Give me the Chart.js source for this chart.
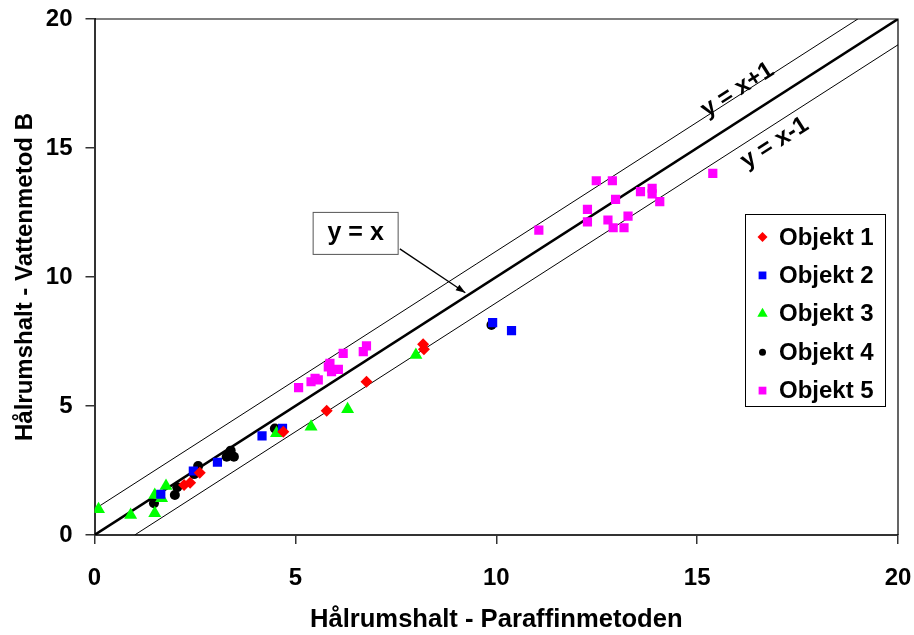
<!DOCTYPE html>
<html lang="sv">
<head>
<meta charset="UTF-8">
<title>Hålrumshalt</title>
<script src="https://cdn.jsdelivr.net/npm/chart.js"></script>
<style>
  html, body { margin: 0; padding: 0; background: #fff; }
</style>
</head>
<body>
<canvas id="chart" width="914" height="635"></canvas>
<script>
// Objekt 1 (röda romber)
const obj1X = [2.23, 2.38, 2.62, 4.70, 5.78, 6.77, 8.18, 8.20];
const obj1Y = [1.94, 2.03, 2.41, 4.00, 4.82, 5.94, 7.39, 7.20];
// Objekt 2 (blå kvadrater)
const obj2X = [1.65, 2.46, 3.06, 4.17, 4.68, 9.91, 10.38];
const obj2Y = [1.58, 2.48, 2.82, 3.84, 4.13, 8.23, 7.92];
// Objekt 3 (gröna trianglar)
const obj3X = [0.10, 0.90, 1.50, 1.50, 1.67, 1.78, 4.53, 5.39, 6.30, 8.00];
const obj3Y = [1.00, 0.78, 0.84, 1.55, 1.42, 1.90, 3.94, 4.20, 4.87, 6.98];
// Objekt 4 (svarta cirklar)
const obj4X = [1.48, 2.00, 2.06, 2.48, 2.58, 3.29, 3.39, 3.47, 4.49, 9.88];
const obj4Y = [1.23, 1.55, 1.85, 2.36, 2.67, 3.03, 3.27, 3.03, 4.13, 8.14];
// Objekt 5 (magenta kvadrater)
const obj5X = [5.08, 5.39, 5.49, 5.57, 5.82, 5.90, 6.07, 5.86, 6.19, 6.69, 6.77,
               11.06, 12.49, 12.89, 12.97, 12.27, 12.27, 12.78, 12.91, 13.28, 13.18,
               13.59, 13.88, 13.88, 14.07, 15.39];
const obj5Y = [5.71, 5.94, 6.07, 6.01, 6.52, 6.33, 6.42, 6.65, 7.04, 7.11, 7.33,
               11.82, 13.73, 13.73, 13.01, 12.62, 12.14, 12.21, 11.91, 12.36, 11.91,
               13.31, 13.44, 13.22, 12.92, 14.02];

// referenslinjer
const eqX = [0, 20],    eqY = [0, 20];
const plusX = [0, 19],  plusY = [1, 20];
const minusX = [1, 20], minusY = [0, 19];

const xTicks = [0, 5, 10, 15, 20];
const yTicks = [0, 5, 10, 15, 20];

const pts = (xs, ys) => xs.map((x, i) => ({ x: x, y: ys[i] }));

const FONT = '"Liberation Sans", Arial, sans-serif';

const series = [
  { label: 'Objekt 1', data: pts(obj1X, obj1Y), color: '#ff0000', style: 'rectRot', radius: 6 },
  { label: 'Objekt 2', data: pts(obj2X, obj2Y), color: '#0000ff', style: 'rect', radius: 6.5 },
  { label: 'Objekt 3', data: pts(obj3X, obj3Y), color: '#00ff00', style: 'triangle', radius: 7.5 },
  { label: 'Objekt 4', data: pts(obj4X, obj4Y), color: '#000000', style: 'circle', radius: 5 },
  { label: 'Objekt 5', data: pts(obj5X, obj5Y), color: '#ff00ff', style: 'rect', radius: 6.5 }
];

const datasets = series.map(s => ({
  label: s.label,
  data: s.data,
  pointStyle: s.style,
  pointRadius: s.radius,
  pointBackgroundColor: s.color,
  pointBorderColor: s.color,
  pointBorderWidth: 0,
  showLine: false
}));

function refLine(label, xs, ys, w) {
  return {
    label: label, data: pts(xs, ys), showLine: true, pointRadius: 0,
    borderColor: '#000', borderWidth: w, fill: false
  };
}
datasets.push(refLine('y = x', eqX, eqY, 2.5));
datasets.push(refLine('y = x+1', plusX, plusY, 1));
datasets.push(refLine('y = x-1', minusX, minusY, 1));

function drawMarker(ctx, style, x, y, r, color) {
  ctx.fillStyle = color;
  ctx.beginPath();
  if (style === 'rectRot') {
    ctx.moveTo(x, y - r); ctx.lineTo(x + r, y); ctx.lineTo(x, y + r); ctx.lineTo(x - r, y);
  } else if (style === 'rect') {
    const s = r * Math.SQRT1_2;
    ctx.rect(x - s, y - s, 2 * s, 2 * s);
  } else if (style === 'triangle') {
    ctx.moveTo(x, y - r); ctx.lineTo(x + r * 0.866, y + r / 2); ctx.lineTo(x - r * 0.866, y + r / 2);
  } else {
    ctx.arc(x, y, r, 0, Math.PI * 2);
  }
  ctx.closePath();
  ctx.fill();
}

const extras = {
  id: 'extras',
  afterDatasetsDraw(chart) {
    const ctx = chart.ctx;
    const a = chart.chartArea;
    const xs = chart.scales.x, ys = chart.scales.y;
    const px = v => xs.getPixelForValue(v), py = v => ys.getPixelForValue(v);

    ctx.save();
    // ram upptill och till höger
    ctx.strokeStyle = '#000';
    ctx.lineWidth = 1.2;
    ctx.beginPath();
    ctx.moveTo(a.left, a.top); ctx.lineTo(a.right, a.top); ctx.lineTo(a.right, a.bottom);
    ctx.stroke();

    const ang = Math.atan2(py(1) - py(0), px(1) - px(0));

    // lutande etiketter
    ctx.fillStyle = '#000';
    ctx.font = 'bold 24px ' + FONT;
    ctx.textAlign = 'center';
    ctx.textBaseline = 'middle';
    [['y = x+1', 16.0, 17.25], ['y = x-1', 16.93, 15.19]].forEach(t => {
      ctx.save();
      ctx.translate(px(t[1]), py(t[2]));
      ctx.rotate(ang);
      ctx.fillText(t[0], 0, 0);
      ctx.restore();
    });

    // rutan "y = x" med pil
    const bx = px(6.5), by = py(11.69);
    ctx.fillStyle = '#fff';
    ctx.fillRect(bx - 42.5, by - 21, 85, 42);
    ctx.strokeStyle = '#555';
    ctx.lineWidth = 1;
    ctx.strokeRect(bx - 42.5, by - 21, 85, 42);
    ctx.fillStyle = '#000';
    ctx.font = 'bold 25px ' + FONT;
    ctx.fillText('y = x', bx, by);

    const x0 = px(7.6), y0 = py(11.09), x1 = px(9.23), y1 = py(9.39);
    ctx.strokeStyle = '#000';
    ctx.lineWidth = 1.3;
    ctx.beginPath(); ctx.moveTo(x0, y0); ctx.lineTo(x1, y1); ctx.stroke();
    const aa = Math.atan2(y1 - y0, x1 - x0);
    ctx.beginPath();
    ctx.moveTo(x1, y1);
    ctx.lineTo(x1 - 10 * Math.cos(aa - 0.35), y1 - 10 * Math.sin(aa - 0.35));
    ctx.lineTo(x1 - 10 * Math.cos(aa + 0.35), y1 - 10 * Math.sin(aa + 0.35));
    ctx.closePath(); ctx.fill();

    // förklaring
    const lx = 745, ly = 214, lw = 140, lh = 192;
    ctx.fillStyle = '#fff';
    ctx.fillRect(lx, ly, lw, lh);
    ctx.strokeStyle = '#000';
    ctx.lineWidth = 1;
    ctx.strokeRect(lx + 0.5, ly + 0.5, lw, lh);
    ctx.font = 'bold 24px ' + FONT;
    ctx.textAlign = 'left';
    series.forEach((s, i) => {
      const cy = ly + 23 + i * 38.4;
      const r = s.style === 'circle' ? 3.5 : (s.style === 'triangle' ? 6 : (s.style === 'rectRot' ? 5 : 5.5));
      drawMarker(ctx, s.style, 762.5, cy, r, s.color);
      ctx.fillStyle = '#000';
      ctx.fillText(s.label, 779, cy + 1);
    });
    ctx.restore();
  }
};

function noOverhang(s) {
  s.paddingLeft = 0; s.paddingRight = 0; s.paddingTop = 0; s.paddingBottom = 0;
}

new Chart(document.getElementById('chart'), {
  type: 'scatter',
  data: { datasets: datasets },
  options: {
    responsive: false,
    devicePixelRatio: 1,
    animation: false,
    layout: { padding: { left: 0, right: 16, top: 19, bottom: 0 } },
    plugins: { legend: { display: false }, tooltip: { enabled: false } },
    elements: { line: { tension: 0 } },
    scales: {
      x: {
        type: 'linear', min: 0, max: 20,
        afterBuildTicks: s => { s.ticks = xTicks.map(v => ({ value: v })); },
        afterFit: s => { s.height = 100; noOverhang(s); },
        ticks: { color: '#000', padding: 20, font: { family: FONT, size: 24, weight: 'bold' } },
        grid: { drawOnChartArea: false, tickLength: 9, color: '#333', lineWidth: 1.5 },
        border: { color: '#333', width: 2 },
        title: {
          display: true, text: 'Hålrumshalt - Paraffinmetoden', color: '#000',
          padding: { top: 0, bottom: 0 },
          font: { family: FONT, size: 25.6, weight: 'bold' }
        }
      },
      y: {
        type: 'linear', min: 0, max: 20,
        afterBuildTicks: s => { s.ticks = yTicks.map(v => ({ value: v })); },
        afterFit: s => { s.width = 94.5; noOverhang(s); },
        ticks: { color: '#000', padding: 13, font: { family: FONT, size: 24, weight: 'bold' } },
        grid: { drawOnChartArea: false, tickLength: 9, color: '#333', lineWidth: 1.5 },
        border: { color: '#333', width: 2 },
        title: {
          display: true, text: 'Hålrumshalt - Vattenmetod B', color: '#000',
          padding: { top: 11, bottom: 0 },
          font: { family: FONT, size: 24, weight: 'bold' }
        }
      }
    }
  },
  plugins: [extras]
});
</script>
</body>
</html>
